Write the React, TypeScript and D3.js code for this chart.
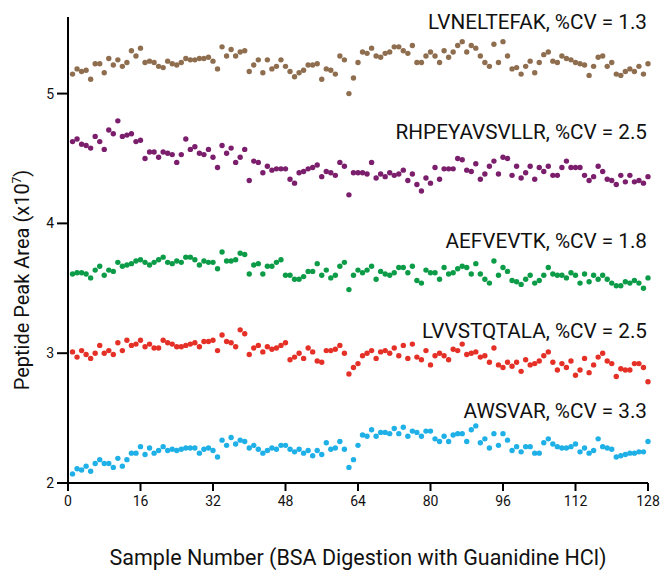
import React from "react";
import * as d3 from "d3";

const sampleNumbers: number[] = d3.range(1, 129);

const brownValues: number[] = [
  5.15, 5.19, 5.17, 5.18, 5.11, 5.23, 5.23, 5.16, 5.27, 5.22, 5.26, 5.21, 5.24, 5.33, 5.29, 5.35,
  5.24, 5.25, 5.24, 5.21, 5.20, 5.25, 5.23, 5.22, 5.24, 5.27, 5.26, 5.26, 5.27, 5.27, 5.28, 5.25,
  5.19, 5.36, 5.29, 5.34, 5.29, 5.32, 5.33, 5.17, 5.22, 5.26, 5.16, 5.26, 5.19, 5.21, 5.26, 5.21,
  5.17, 5.13, 5.16, 5.18, 5.22, 5.22, 5.23, 5.11, 5.19, 5.18, 5.15, 5.29, 5.26, 5.00, 5.12, 5.24,
  5.32, 5.31, 5.35, 5.29, 5.28, 5.31, 5.32, 5.36, 5.36, 5.33, 5.31, 5.37, 5.24, 5.24, 5.29, 5.32,
  5.29, 5.24, 5.33, 5.28, 5.32, 5.37, 5.40, 5.32, 5.37, 5.35, 5.29, 5.24, 5.21, 5.38, 5.24, 5.40,
  5.29, 5.19, 5.20, 5.15, 5.21, 5.25, 5.16, 5.24, 5.30, 5.32, 5.25, 5.24, 5.29, 5.27, 5.26, 5.24,
  5.23, 5.22, 5.14, 5.21, 5.28, 5.29, 5.21, 5.24, 5.15, 5.14, 5.17, 5.19, 5.17, 5.21, 5.15, 5.23,
];

const purpleValues: number[] = [
  4.63, 4.65, 4.61, 4.60, 4.58, 4.67, 4.63, 4.57, 4.72, 4.69, 4.79, 4.67, 4.68, 4.69, 4.63, 4.64,
  4.50, 4.55, 4.55, 4.51, 4.55, 4.54, 4.53, 4.47, 4.53, 4.65, 4.57, 4.59, 4.54, 4.53, 4.57, 4.51,
  4.43, 4.60, 4.54, 4.58, 4.47, 4.51, 4.57, 4.33, 4.48, 4.47, 4.39, 4.44, 4.41, 4.42, 4.42, 4.42,
  4.34, 4.31, 4.39, 4.40, 4.42, 4.43, 4.45, 4.36, 4.40, 4.39, 4.37, 4.47, 4.44, 4.22, 4.39, 4.39,
  4.39, 4.38, 4.47, 4.35, 4.38, 4.36, 4.39, 4.37, 4.38, 4.41, 4.33, 4.38, 4.30, 4.25, 4.35, 4.31,
  4.43, 4.34, 4.42, 4.42, 4.42, 4.50, 4.49, 4.41, 4.40, 4.46, 4.34, 4.38, 4.44, 4.48, 4.38, 4.51,
  4.50, 4.37, 4.44, 4.35, 4.39, 4.44, 4.34, 4.43, 4.40, 4.44, 4.37, 4.37, 4.43, 4.48, 4.43, 4.43,
  4.43, 4.37, 4.33, 4.36, 4.44, 4.40, 4.34, 4.33, 4.30, 4.37, 4.32, 4.37, 4.32, 4.33, 4.31, 4.36,
];

const greenValues: number[] = [
  3.61, 3.62, 3.62, 3.61, 3.58, 3.64, 3.67, 3.60, 3.64, 3.63, 3.70, 3.67, 3.68, 3.69, 3.71, 3.72,
  3.70, 3.68, 3.70, 3.72, 3.74, 3.70, 3.69, 3.71, 3.70, 3.74, 3.74, 3.72, 3.68, 3.71, 3.70, 3.70,
  3.65, 3.78, 3.71, 3.71, 3.72, 3.77, 3.76, 3.61, 3.68, 3.69, 3.61, 3.67, 3.67, 3.70, 3.72, 3.60,
  3.60, 3.57, 3.57, 3.59, 3.63, 3.63, 3.69, 3.60, 3.64, 3.58, 3.60, 3.67, 3.70, 3.49, 3.60, 3.64,
  3.62, 3.64, 3.67, 3.57, 3.63, 3.61, 3.60, 3.62, 3.66, 3.66, 3.62, 3.67, 3.56, 3.54, 3.64, 3.62,
  3.62, 3.57, 3.66, 3.61, 3.62, 3.65, 3.67, 3.66, 3.61, 3.69, 3.61, 3.57, 3.54, 3.71, 3.60, 3.66,
  3.63, 3.56, 3.55, 3.53, 3.57, 3.60, 3.54, 3.56, 3.60, 3.66, 3.61, 3.60, 3.60, 3.58, 3.62, 3.60,
  3.54, 3.61, 3.55, 3.60, 3.57, 3.60, 3.57, 3.54, 3.52, 3.52, 3.55, 3.54, 3.56, 3.54, 3.50, 3.58,
];

const redValues: number[] = [
  3.01, 2.97, 3.02, 2.99, 2.96, 3.00, 3.06, 3.00, 3.02, 2.99, 3.08, 3.02, 3.10, 3.06, 3.07, 3.10,
  3.05, 3.07, 3.04, 3.04, 3.10, 3.08, 3.07, 3.05, 3.05, 3.06, 3.07, 3.08, 3.05, 3.09, 3.09, 3.10,
  3.02, 3.14, 3.09, 3.08, 3.05, 3.18, 3.15, 2.99, 3.04, 3.06, 3.01, 3.05, 3.03, 3.04, 3.06, 3.08,
  2.95, 2.97, 3.00, 2.96, 3.04, 3.01, 2.94, 2.93, 3.02, 3.02, 3.03, 3.06, 3.00, 2.84, 2.89, 2.92,
  2.98, 3.00, 3.02, 2.96, 3.01, 3.02, 3.00, 3.04, 2.98, 3.06, 2.96, 3.07, 2.97, 2.95, 3.02, 2.91,
  2.98, 3.00, 2.98, 2.95, 3.03, 3.02, 3.07, 2.99, 3.00, 3.01, 2.97, 2.98, 2.93, 3.04, 2.91, 2.89,
  2.93, 2.90, 2.93, 2.86, 2.95, 2.91, 2.92, 2.94, 2.98, 3.01, 2.93, 2.87, 2.92, 2.89, 2.94, 2.83,
  2.87, 2.96, 2.85, 2.91, 2.97, 3.00, 2.94, 2.92, 2.82, 2.88, 2.87, 2.87, 2.92, 2.92, 2.89, 2.78,
];

const cyanValues: number[] = [
  2.07, 2.11, 2.10, 2.13, 2.09, 2.15, 2.18, 2.15, 2.15, 2.12, 2.19, 2.13, 2.18, 2.23, 2.23, 2.28,
  2.22, 2.27, 2.23, 2.25, 2.28, 2.25, 2.26, 2.25, 2.26, 2.27, 2.27, 2.27, 2.23, 2.26, 2.27, 2.25,
  2.20, 2.33, 2.29, 2.35, 2.30, 2.33, 2.32, 2.27, 2.29, 2.26, 2.23, 2.25, 2.27, 2.26, 2.29, 2.29,
  2.26, 2.24, 2.26, 2.23, 2.25, 2.21, 2.25, 2.22, 2.31, 2.26, 2.27, 2.32, 2.26, 2.12, 2.18, 2.29,
  2.37, 2.36, 2.41, 2.36, 2.39, 2.39, 2.38, 2.42, 2.38, 2.43, 2.36, 2.40, 2.39, 2.36, 2.40, 2.40,
  2.34, 2.32, 2.36, 2.32, 2.37, 2.38, 2.38, 2.32, 2.41, 2.44, 2.31, 2.34, 2.27, 2.38, 2.29, 2.38,
  2.33, 2.25, 2.28, 2.24, 2.28, 2.28, 2.23, 2.23, 2.31, 2.34, 2.30, 2.28, 2.27, 2.27, 2.28, 2.30,
  2.24, 2.27, 2.23, 2.25, 2.34, 2.28, 2.27, 2.26, 2.20, 2.21, 2.22, 2.23, 2.23, 2.24, 2.24, 2.32,
];

const seriesNames: string[] = [
  "LVNELTEFAK, %CV = 1.3",
  "RHPEYAVSVLLR, %CV = 2.5",
  "AEFVEVTK, %CV = 1.8",
  "LVVSTQTALA, %CV = 2.5",
  "AWSVAR, %CV = 3.3",
];
const seriesLabelY: number[] = [5.5, 4.65, 3.81, 3.12, 2.5];
const seriesColors: string[] = ["#8f6e4f", "#7b1f6d", "#0c9c48", "#e53027", "#1eb0e6"];
const seriesValues: number[][] = [brownValues, purpleValues, greenValues, redValues, cyanValues];

const xTicks: number[] = [0, 16, 32, 48, 64, 80, 96, 112, 128];
const yTicks: number[] = [2, 3, 4, 5];

const xTitle = "Sample Number (BSA Digestion with Guanidine HCl)";
const yTitle = "Peptide Peak Area (x10";

const W = 661;
const H = 571;
const FONT = "Roboto, 'Noto Sans', sans-serif";

export default function App() {
  const x = d3.scaleLinear().domain([0, 128]).range([68, 648]);
  const y = d3.scaleLinear().domain([2, 5.59]).range([483, 17]);

  return (
    <svg
      width={W}
      height={H}
      style={{ position: "absolute", left: 0, top: 0, background: "#fff" }}
      fontFamily={FONT}
    >
      <rect x={0} y={0} width={W} height={H} fill="#fff" />
      {seriesValues.map((vals, si) => (
        <g key={si} fill={seriesColors[si]}>
          {vals.map((v, i) => (
            <circle key={i} cx={x(sampleNumbers[i])} cy={y(v)} r={2.7} />
          ))}
        </g>
      ))}
      {seriesNames.map((name, si) => (
        <text
          key={si}
          x={647}
          y={y(seriesLabelY[si])}
          textAnchor="end"
          fontSize={20.7}
          fill="#111"
        >
          {name}
        </text>
      ))}
      {/* axes */}
      <line x1={x(0)} x2={x(0)} y1={y.range()[1]} y2={y(2) + 1} stroke="#000" strokeWidth={2} />
      <line x1={x(0) - 1} x2={x(128)} y1={y(2)} y2={y(2)} stroke="#000" strokeWidth={2} />
      {xTicks.map((t) => (
        <g key={t}>
          <line x1={x(t)} x2={x(t)} y1={y(2)} y2={y(2) + 8} stroke="#000" strokeWidth={2} />
          <text x={x(t)} y={y(2) + 23} textAnchor="middle" fontSize={14} fill="#111">
            {t}
          </text>
        </g>
      ))}
      {yTicks.map((t) => (
        <g key={t}>
          <line x1={x(0) - 11} x2={x(0)} y1={y(t)} y2={y(t)} stroke="#000" strokeWidth={2} />
          <text
            x={x(0) - 14}
            y={y(t)}
            dy="0.36em"
            textAnchor="end"
            fontSize={14}
            fill="#111"
          >
            {t}
          </text>
        </g>
      ))}
      <text x={358} y={565} textAnchor="middle" fontSize={21.5} fill="#111">
        {xTitle}
      </text>
      <text
        transform="translate(29, 280) rotate(-90)"
        textAnchor="middle"
        fontSize={20}
        fill="#111"
      >
        {yTitle}
        <tspan fontSize={12} dy={-8}>7</tspan>
        <tspan dy={8}>)</tspan>
      </text>
    </svg>
  );
}
